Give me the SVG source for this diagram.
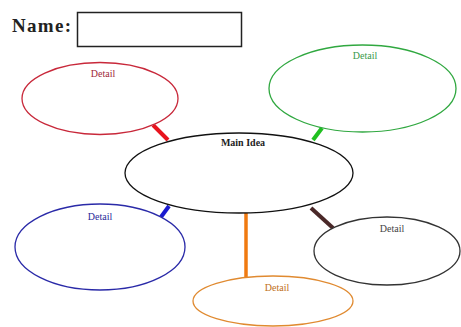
<svg xmlns="http://www.w3.org/2000/svg" width="461" height="327" viewBox="0 0 461 327">
<style>
.n{fill:#fff;stroke-width:1.3}
.t{font-family:"Liberation Serif",serif;font-size:10px;text-anchor:middle}
.c{stroke-width:4;stroke-linecap:butt}
</style>
<rect width="461" height="327" fill="#fff"/>
<g id="name">
<text x="12" y="32" font-family="Liberation Serif,serif" font-weight="bold" font-size="19" textLength="59" fill="#222">Name:</text>
<rect x="77.5" y="12.5" width="164" height="34" fill="#fff" stroke="#222" stroke-width="1.5"/>
</g>
<g id="connectors">
<line class="c" x1="153" y1="125" x2="168" y2="140" stroke="#e8141e"/>
<line class="c" x1="322" y1="128" x2="313" y2="140" stroke="#20c020"/>
<line class="c" x1="169" y1="206" x2="161" y2="217" stroke="#1a1ad0"/>
<line class="c" x1="311" y1="208" x2="333" y2="228" stroke="#4a2828"/>
<line x1="246" y1="213" x2="246" y2="279" stroke="#f07a10" stroke-width="3.5"/>
</g>
<g id="main">
<ellipse class="n" cx="239" cy="173" rx="114" ry="40" stroke="#111"/>
<text class="t" x="243" y="146" font-weight="bold" fill="#222">Main Idea</text>
</g>
<g id="detail-red">
<ellipse class="n" cx="100" cy="98.5" rx="78" ry="36" stroke="#c8283a"/>
<text class="t" x="103" y="77" fill="#a02838">Detail</text>
</g>
<g id="detail-green">
<ellipse class="n" cx="362.5" cy="88.5" rx="93.5" ry="43.5" stroke="#30a840"/>
<text class="t" x="365" y="59" fill="#3a9a4a">Detail</text>
</g>
<g id="detail-blue">
<ellipse class="n" cx="100" cy="247" rx="85" ry="43" stroke="#2a2aa8"/>
<text class="t" x="100" y="220" fill="#2a2a9a">Detail</text>
</g>
<g id="detail-gray">
<ellipse class="n" cx="387" cy="251" rx="73" ry="34" stroke="#333"/>
<text class="t" x="392" y="232" fill="#444">Detail</text>
</g>
<g id="detail-orange">
<ellipse class="n" cx="273" cy="301" rx="80" ry="25" stroke="#e08a30"/>
<text class="t" x="277" y="291" fill="#c07020">Detail</text>
</g>
</svg>
